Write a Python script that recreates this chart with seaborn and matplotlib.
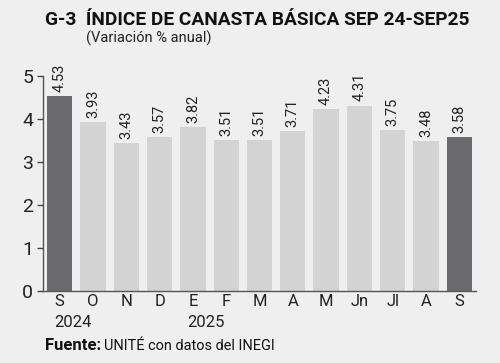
import matplotlib
matplotlib.use("Agg")
import matplotlib.pyplot as plt
import seaborn as sns
import pandas as pd

# Datos
meses = ["S", "O", "N", "D", "E", "F", "M", "A", "M", "Jn", "Jl", "A", "S"]
anios = {0: "2024", 4: "2025"}
valores = [4.53, 3.93, 3.43, 3.57, 3.82, 3.51, 3.51, 3.71, 4.23, 4.31, 3.75, 3.48, 3.58]

oscuro = "#6b6b6e"
claro = "#d3d3d3"
fondo = "#efefef"
colores = [oscuro] + [claro] * 11 + [oscuro]

sns.set_style("white")
plt.rcParams["font.family"] = ["Roboto", "DejaVu Sans"]

df = pd.DataFrame({"pos": range(len(valores)), "valor": valores})

fig = plt.figure(figsize=(5, 3.63), dpi=100, facecolor=fondo)
ax = fig.add_axes([0.086, 0.198, 0.866, 0.593])
ax.set_facecolor(fondo)

sns.barplot(data=df, x="pos", y="valor", hue="pos", palette=colores,
            width=0.76, legend=False, ax=ax, saturation=1, linewidth=0)

for i, v in enumerate(valores):
    ax.annotate(f"{v:.2f}", (i, v), xytext=(0, 3), textcoords="offset points",
                rotation=90, ha="center", va="bottom", fontsize=10.5, color="#222222")

ax.set_xlim(-0.5, 12.5)
ax.set_ylim(0, 5)
ax.set_yticks([0, 1, 2, 3, 4, 5])
ax.set_xticks(range(len(meses)))
ax.set_xticklabels(meses, fontsize=12, color="#222222")
ax.tick_params(axis="y", labelsize=14, labelcolor="#222222", length=4, width=1,
               color="#444444", left=True, pad=3)
ax.tick_params(axis="x", length=0, pad=2)
for i, a in anios.items():
    ax.text(i - 0.17, -0.11, a, transform=ax.get_xaxis_transform(),
            ha="left", va="top", fontsize=12, color="#222222")
ax.set_xlabel("")
ax.set_ylabel("")
for s in ["top", "right"]:
    ax.spines[s].set_visible(False)
for s in ["left", "bottom"]:
    ax.spines[s].set_color("#555555")
    ax.spines[s].set_linewidth(1)


def ajustar(t, ancho):
    fig.canvas.draw()
    w = t.get_window_extent().width
    t.set_fontsize(t.get_fontsize() * ancho / w)


titulo = fig.text(0.09, 0.945, "G-3  ÍNDICE DE CANASTA BÁSICA SEP 24-SEP25",
                  fontsize=15, fontweight="bold", color="#111111", va="center")
ajustar(titulo, 427)
sub = fig.text(0.172, 0.895, "(Variación % anual)", fontsize=11.5, color="#222222", va="center")
ajustar(sub, 126)
f1 = fig.text(0.09, 0.047, "Fuente:", fontsize=12, fontweight="bold", color="#111111", va="center")
ajustar(f1, 56)
f2 = fig.text(0.208, 0.047, "UNITÉ con datos del INEGI", fontsize=12, color="#111111", va="center")
ajustar(f2, 170)

fig.savefig("out.png", dpi=100, facecolor=fondo)
